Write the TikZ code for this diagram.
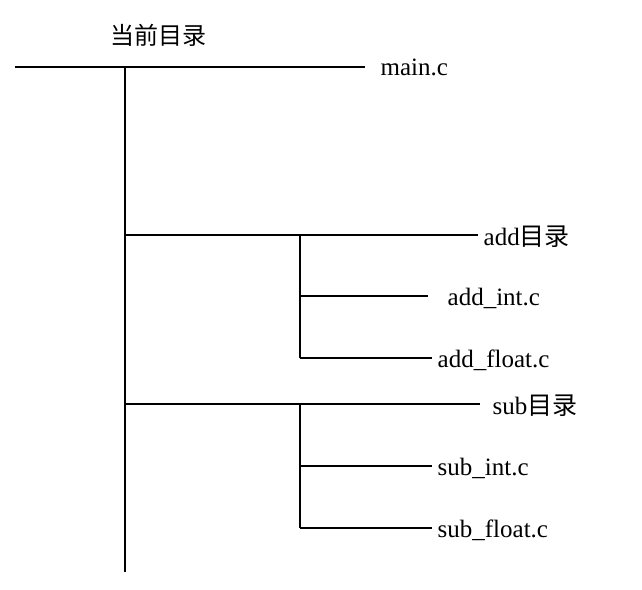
\documentclass[tikz,border=0pt]{standalone}
\usepackage{fontspec}
\setmainfont{Liberation Serif}
\newfontfamily\cjk{Noto Sans CJK SC}
\begin{document}
\begin{tikzpicture}[x=1pt,y=-1pt,line width=1.3pt,
  lbl/.style={anchor=west,inner sep=0pt,font=\fontsize{25}{27}\selectfont}]
\useasboundingbox (0,0) rectangle (642,589);
\node[inner sep=0pt,font=\fontsize{24}{26}\selectfont\cjk] (root) at (158,35) {当前目录};
\coordinate (t0) at (15,67);
\coordinate (mtop) at (125,67);
\coordinate (mbot) at (125,572);
\node[lbl] (main) at (380,67) {main.c};
\draw (t0) -- (365,67);
\draw (mtop) -- (mbot);
\node[lbl] (add) at (483,237) {add{\cjk 目录}};
\node[lbl] (addi) at (447,298) {add\_int.c};
\node[lbl] (addf) at (437,360) {add\_float.c};
\node[lbl] (sub) at (492,406) {sub{\cjk 目录}};
\node[lbl] (subi) at (437,468) {sub\_int.c};
\node[lbl] (subf) at (437,530) {sub\_float.c};
\coordinate (a0) at (125,235); \coordinate (a1) at (300,235);
\coordinate (a2) at (300,296); \coordinate (a3) at (300,358);
\draw (a0) -- (478,235);
\draw (a1) -- (a3);
\draw (a2) -- (428,296);
\draw (a3) -- (432,358);
\coordinate (s0) at (125,404); \coordinate (s1) at (300,404);
\coordinate (s2) at (300,466); \coordinate (s3) at (300,528);
\draw (s0) -- (480,404);
\draw (s1) -- (s3);
\draw (s2) -- (432,466);
\draw (s3) -- (432,528);
\end{tikzpicture}
\end{document}
